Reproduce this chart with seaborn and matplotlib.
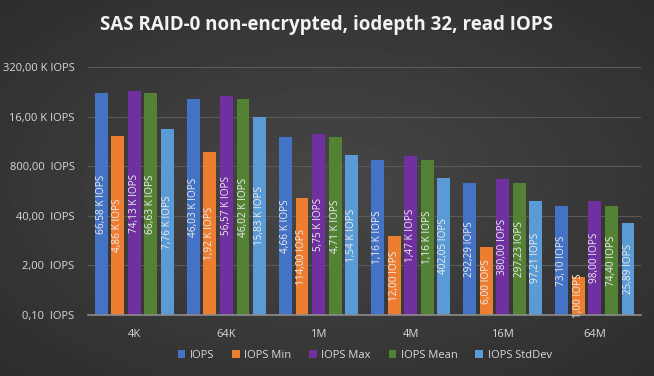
import numpy as np
import pandas as pd
import matplotlib.pyplot as plt
import seaborn as sns

# block sizes and series
block_sizes = ['4K', '64K', '1M', '4M', '16M', '64M']
series = ['IOPS', 'IOPS Min', 'IOPS Max', 'IOPS Mean', 'IOPS StdDev']

iops = [66580, 46030, 4660, 1160, 292.29, 73.10]
iops_min = [4860, 1920, 114.00, 12.00, 6.00, 1.00]
iops_max = [74130, 56570, 5750, 1470, 380.00, 98.00]
iops_mean = [66630, 46020, 4710, 1160, 297.23, 74.40]
iops_std = [7760, 15830, 1540, 402.05, 97.21, 25.89]

yticks = [0.1, 2, 40, 800, 16000, 320000]
ytick_labels = ['0,10  IOPS', '2,00  IOPS', '40,00  IOPS', '800,00  IOPS',
                '16,00 K IOPS', '320,00 K IOPS']

colors = ['#4472C4', '#ED7D31', '#7030A0', '#548235', '#5B9BD5']
text_col = '#D9D9D9'

rows = []
for name, vals in zip(series, [iops, iops_min, iops_max, iops_mean, iops_std]):
    for bs, v in zip(block_sizes, vals):
        rows.append({'block': bs, 'series': name, 'value': v})
df = pd.DataFrame(rows)


def fmt(v):
    if v >= 1000:
        return f"{v / 1000:.2f} K IOPS".replace('.', ',')
    return f"{v:.2f} IOPS".replace('.', ',')


sns.set_style('dark')
plt.rcParams['font.family'] = ['Open Sans', 'DejaVu Sans']

fig = plt.figure(figsize=(6.54, 3.76), dpi=100)

# radial-ish dark background
bg = fig.add_axes([0, 0, 1, 1], zorder=-10)
yy, xx = np.mgrid[-1:1:200j, -1:1:300j]
r = np.sqrt(xx ** 2 + yy ** 2)
bg.imshow(0.28 - 0.10 * np.clip(r, 0, 1.4) / 1.4, cmap='gray', vmin=0, vmax=1,
          aspect='auto', extent=[0, 1, 0, 1])
bg.axis('off')

ax = fig.add_axes([0.135, 0.162, 0.845, 0.66])
ax.set_facecolor('none')
sns.barplot(data=df, x='block', y='value', hue='series', palette=colors,
            width=0.9, gap=0.22, ax=ax, saturation=1, edgecolor='none',
            errorbar=None, legend=True)
ax.set_yscale('log', base=20)
ax.set_ylim(0.1, 320000)
ax.set_yticks(yticks)
ax.set_yticklabels(ytick_labels)
ax.minorticks_off()
ax.set_xlim(-0.5, 5.5)
ax.set_xlabel('')
ax.set_ylabel('')
ax.tick_params(colors=text_col, labelsize=8, length=0, pad=10)
ax.grid(axis='y', color='#5A5A5A', linewidth=0.8)
ax.grid(axis='x', visible=False)
for s in ['top', 'left', 'right']:
    ax.spines[s].set_visible(False)
ax.spines['bottom'].set_color('#8C8C8C')
ax.spines['bottom'].set_linewidth(1.2)

# value labels centred in each bar (geometric middle on log axis)
for cont in ax.containers:
    for bar in cont:
        v = bar.get_height()
        xc = bar.get_x() + bar.get_width() / 2
        ax.text(xc, np.sqrt(0.1 * v), fmt(v), rotation=90, ha='center',
                va='center', color='#EDEDED', fontsize=7.2)

leg = ax.legend(loc='upper center', bbox_to_anchor=(0.5, -0.1), ncol=5,
                frameon=False, fontsize=8, handlelength=0.7, handleheight=0.7,
                columnspacing=1.6, handletextpad=0.4)
for t in leg.get_texts():
    t.set_color(text_col)

fig.suptitle('SAS RAID-0 non-encrypted, iodepth 32, read IOPS', y=0.96,
             color='#F2F2F2', fontsize=13.5, fontweight='bold')

fig.savefig('out.png', dpi=100)
